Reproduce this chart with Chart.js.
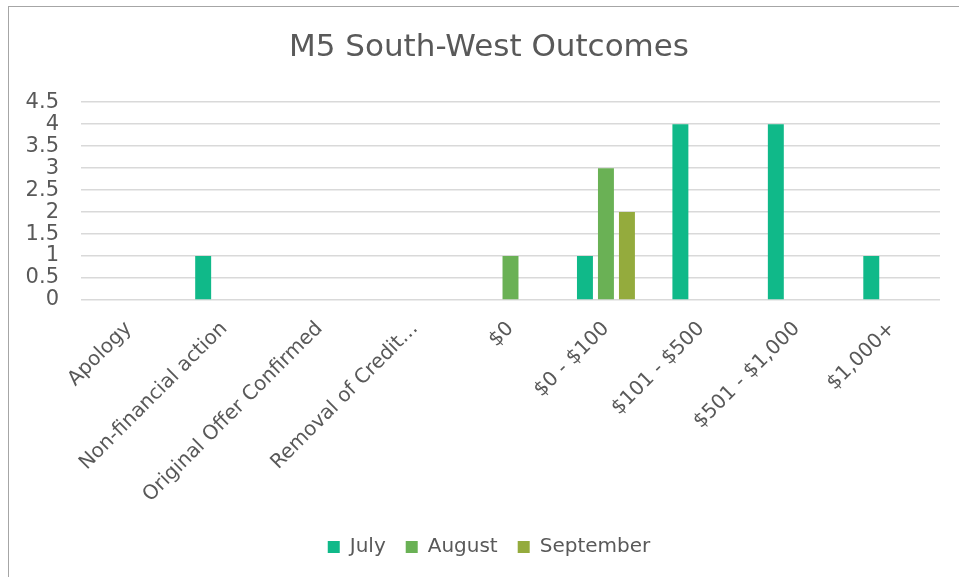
<!DOCTYPE html>
<html>
<head>
<meta charset="utf-8">
<script src="https://cdn.jsdelivr.net/npm/chart.js@4.4.0/dist/chart.umd.min.js"></script>
<style>
  html, body { margin: 0; padding: 0; background: #fff; }
  #wrap { position: relative; width: 959px; height: 577px; overflow: hidden; }
  #frame { position: absolute; left: 8px; top: 6px; width: 980px; height: 600px; border: 1px solid #a6a6a6; box-sizing: border-box; }
  canvas { position: absolute; left: 0; top: 0; }
</style>
</head>
<body>
<div id="wrap">
  <div id="frame"></div>
  <canvas id="outcomesChart" width="959" height="577"></canvas>
</div>
<script>
var categories = ["Apology", "Non-financial action", "Original Offer Confirmed", "Removal of Credit\u2026",
  "$0", "$0 - $100", "$101 - $500", "$501 - $1,000", "$1,000+"];
var julyValues = [0, 1, 0, 0, 0, 1, 4, 4, 1];
var augustValues = [0, 0, 0, 0, 1, 3, 0, 0, 0];
var septemberValues = [0, 0, 0, 0, 0, 2, 0, 0, 0];
var yTicks = [0, 0.5, 1, 1.5, 2, 2.5, 3, 3.5, 4, 4.5];

var textColor = "#595959";
var fontFamily = "'DejaVu Sans', sans-serif";

// let the y tick labels spill left of the axis box instead of being clipped
var yLabelRoom = {
  id: "yLabelRoom",
  afterLayout: function (chart) { chart.scales.y.left = 0; }
};

new Chart("outcomesChart", {
  type: "bar",
  data: {
    labels: categories,
    datasets: [
      { label: "July", data: julyValues, backgroundColor: "#10b989" },
      { label: "August", data: augustValues, backgroundColor: "#6ab155" },
      { label: "September", data: septemberValues, backgroundColor: "#94ab3d" }
    ]
  },
  plugins: [yLabelRoom],
  options: {
    responsive: false,
    animation: false,
    layout: { padding: { left: 38, right: 19, top: 0, bottom: 10 } },
    datasets: { bar: { categoryPercentage: 0.66, barPercentage: 0.76 } },
    plugins: {
      title: {
        display: true,
        text: "M5 South-West Outcomes",
        color: textColor,
        font: { family: fontFamily, size: 31, weight: "normal" },
        padding: { top: 29, bottom: 36 }
      },
      legend: {
        position: "bottom",
        labels: {
          color: textColor,
          font: { family: fontFamily, size: 20 },
          boxWidth: 12,
          boxHeight: 12,
          padding: 20
        }
      },
      tooltip: { enabled: false }
    },
    scales: {
      x: {
        afterFit: function (axis) { axis.height = 217; },
        grid: { display: false },
        border: { display: false },
        ticks: {
          color: textColor,
          font: { family: fontFamily, size: 20 },
          minRotation: 45,
          maxRotation: 45,
          autoSkip: false,
          padding: 9
        }
      },
      y: {
        min: 0,
        max: 4.5,
        afterBuildTicks: function (axis) {
          axis.ticks = yTicks.map(function (v) { return { value: v }; });
        },
        afterFit: function (axis) { axis.width = 43; },
        grid: { color: "#d9d9d9", lineWidth: 1.5, drawTicks: false },
        border: { display: false },
        ticks: {
          color: textColor,
          font: { family: fontFamily, size: 21 },
          autoSkip: false,
          padding: 22,
          callback: function (v) { return String(v); }
        }
      }
    }
  }
});
</script>
</body>
</html>
